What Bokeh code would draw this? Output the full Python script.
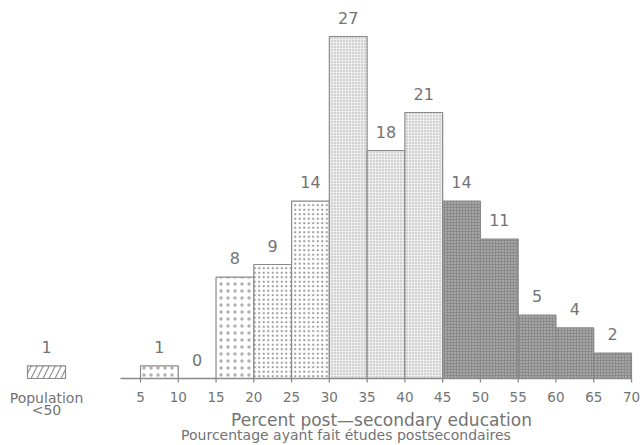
from bokeh.plotting import figure
from bokeh.models import Range1d, ColumnDataSource
from bokeh.core.properties import value
from bokeh.embed import file_html
from bokeh.resources import INLINE
import math

# ---- data ----
bin_left = [5, 10, 15, 20, 25, 30, 35, 40, 45, 50, 55, 60, 65]
bin_width = 5
counts = [1, 0, 8, 9, 14, 27, 18, 21, 14, 11, 5, 4, 2]
# texture group of each bin: 0 sparse dots, 1 medium dots, 2 fine light, 3 dark
texture = [0, 0, 0, 1, 1, 2, 2, 2, 3, 3, 3, 3, 3]
tick_values = [5, 10, 15, 20, 25, 30, 35, 40, 45, 50, 55, 60, 65, 70]
tick_labels = [str(v) for v in tick_values]
title_en = "Percent post\u2014secondary education"
title_fr = "Pourcentage ayant fait \u00e9tudes postsecondaires"
legend_count = [1]
legend_label = ["Population", "<50"]

# ---- layout ----
W, H = 642, 445
px_x = 491 / 65.0          # pixels per x unit
px_y = 342 / 27.0          # pixels per y unit
x0 = 5 - 140 / px_x
y_axis_page = 378          # pixel row of y = 0
y_top = y_axis_page / px_y
y_bot = -(H - y_axis_page) / px_y

FONT = value("DejaVu Sans")
TXT = "#737373"
LINE = "#8a8a8a"

p = figure(width=W, height=H, output_backend="svg", toolbar_location=None,
           x_range=Range1d(x0, x0 + W / px_x), y_range=Range1d(y_bot, y_top),
           min_border=0, outline_line_color=None)
p.axis.visible = False
p.grid.visible = False
p.background_fill_color = "white"

styles = {
    0: dict(fill_color="white", hatch_pattern="dot", hatch_color="#b0b0b0", hatch_scale=7, hatch_weight=0.5),
    1: dict(fill_color="white", hatch_pattern="dot", hatch_color="#999999", hatch_scale=4.5, hatch_weight=0.7),
    2: dict(fill_color="#ececec", hatch_pattern="dot", hatch_color="#a8a8a8", hatch_scale=3, hatch_weight=1),
    3: dict(fill_color="#8a8a8a", hatch_pattern="dot", hatch_color="#cfcfcf", hatch_scale=3, hatch_weight=1),
}
for g, st in styles.items():
    idx = [i for i in range(len(counts)) if texture[i] == g and counts[i] > 0]
    src = ColumnDataSource(dict(left=[bin_left[i] for i in idx],
                                right=[bin_left[i] + bin_width for i in idx],
                                top=[counts[i] for i in idx],
                                bottom=[0] * len(idx)))
    p.quad(left="left", right="right", top="top", bottom="bottom", source=src,
           line_color=LINE, line_width=1.2, **st)

# value labels
p.text(x=[b + bin_width / 2 for b in bin_left], y=counts, text=[str(c) for c in counts],
       text_font=FONT, text_font_size="16px", text_color=TXT,
       text_align="center", text_baseline="alphabetic", y_offset=-19)

# axis line and ticks
axis_start = 5 - 20 / px_x
p.segment(x0=[axis_start], y0=[0], x1=[tick_values[-1]], y1=[0], line_color=LINE, line_width=1.3)
p.ray(x=tick_values, y=[0] * len(tick_values), length=4, length_units="screen",
      angle=-math.pi / 2, line_color=LINE, line_width=1.3)
p.text(x=tick_values, y=[0] * len(tick_values), text=tick_labels,
       text_font=FONT, text_font_size="13.5px", text_color=TXT,
       text_align="center", text_baseline="alphabetic", y_offset=18)

# axis titles
p.text(x=[5 + 241 / px_x], y=[0], text=[title_en], text_font=FONT, text_font_size="17px",
       text_color=TXT, text_align="center", text_baseline="alphabetic", y_offset=41)
p.text(x=[5 + 205.5 / px_x], y=[0], text=[title_fr], text_font=FONT, text_font_size="14px",
       text_color=TXT, text_align="center", text_baseline="alphabetic", y_offset=56)

# legend (box drawn as a bar of the legend's count)
lg_left = x0 + 27 / px_x
lg_right = x0 + 65 / px_x
p.quad(left=[lg_left], right=[lg_right], bottom=[0], top=legend_count,
       fill_color="white", hatch_pattern="/", hatch_color="#8a8a8a", hatch_scale=12,
       hatch_weight=1.1, line_color=LINE, line_width=1.2)
lg_c = (lg_left + lg_right) / 2
p.text(x=[lg_c], y=legend_count, text=[str(legend_count[0])], text_font=FONT,
       text_font_size="16px", text_color=TXT, text_align="center",
       text_baseline="alphabetic", y_offset=-19)
p.text(x=[lg_c, lg_c], y=[0, 0], text=legend_label, text_font=FONT, text_font_size="14px",
       text_color=TXT, text_align="center", text_baseline="alphabetic", y_offset=[19, 31])

open("out.html", "w").write(file_html(p, INLINE))
